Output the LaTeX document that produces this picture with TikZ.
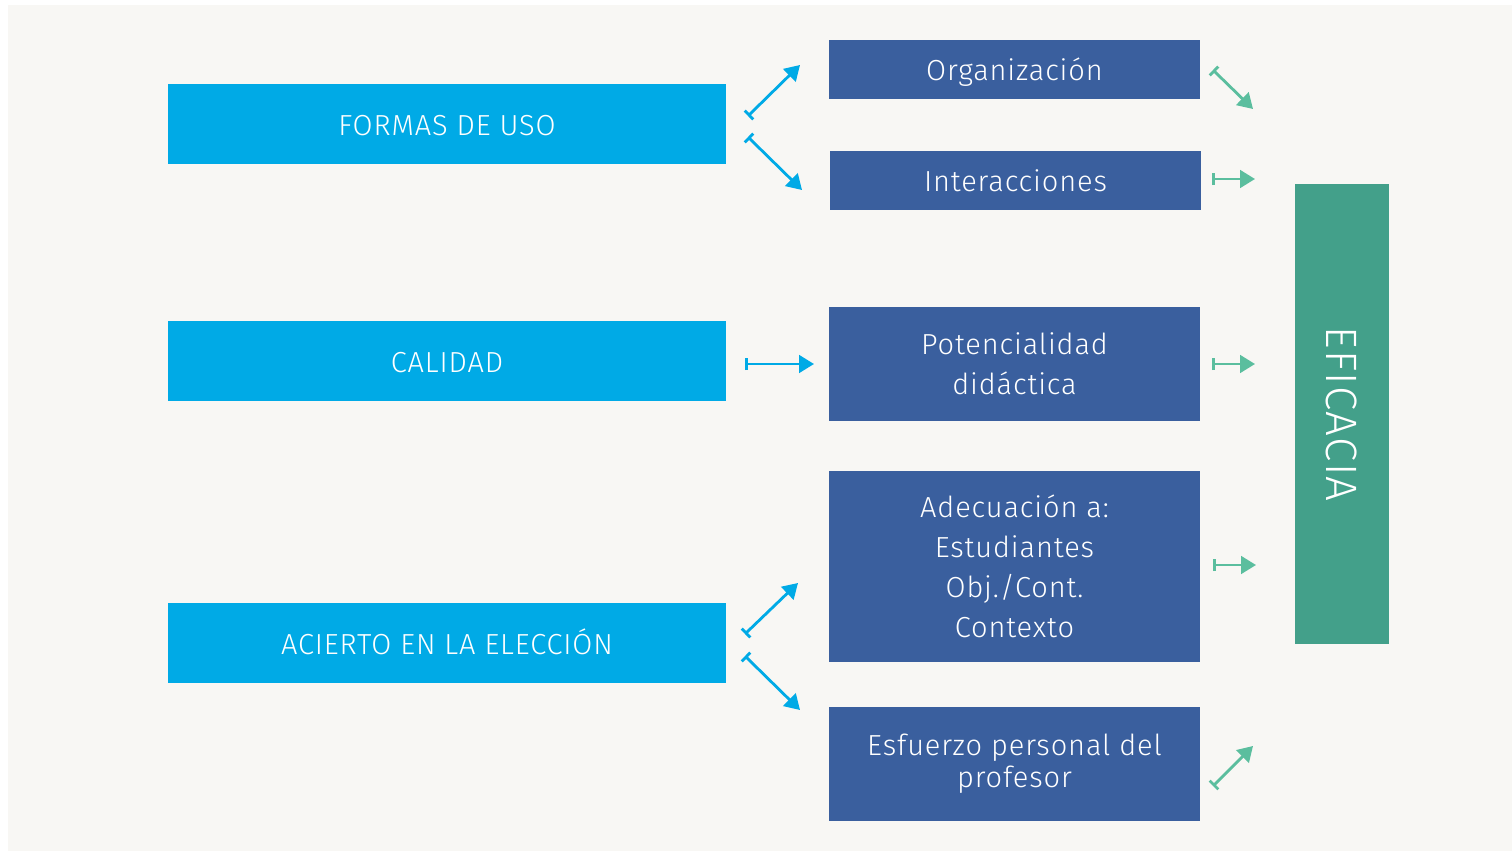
\documentclass[tikz,border=0pt]{standalone}
\usepackage{fontspec}
\setmainfont{Fira Sans Light}[LetterSpace=3]
\usetikzlibrary{arrows.meta,positioning}
\definecolor{fondo}{HTML}{F8F7F4}
\definecolor{celeste}{HTML}{00AAE6}
\definecolor{azul}{HTML}{3A5F9E}
\definecolor{verde}{HTML}{43A08A}
\definecolor{verdeclaro}{HTML}{5BBE9E}

\begin{document}
\begin{tikzpicture}[x=0.02cm, y=-0.02cm,
  factor/.style={rectangle, fill=celeste, text=white, minimum width=11.16cm, minimum height=1.6cm, inner sep=0pt, align=center, text height=13pt, text depth=0pt, font=\fontsize{16.5}{22.7}\selectfont},
  aspecto/.style={rectangle, fill=azul, text=white, minimum width=7.42cm, inner sep=0pt, align=center, font=\fontsize{16.5}{22.7}\selectfont},
  unalinea/.style={minimum height=1.18cm, text height=13pt, text depth=0pt},
  meta/.style={rectangle, fill=verde, text=white, minimum width=9.2cm, minimum height=1.88cm, inner sep=0pt, font=\fontsize{25}{30}\selectfont},
  flecha/.style={{Bar[width=7pt]}-{Triangle[length=8.5pt,width=10pt]}, line width=1.6pt},
  azulflecha/.style={flecha, draw=celeste, fill=celeste},
  verdeflecha/.style={flecha, draw=verdeclaro, fill=verdeclaro}
]
  \useasboundingbox (0,0) rectangle (1512,851);
  \fill[white] (0,0) rectangle (1512,851);
  \fill[fondo] (8,5) rectangle (1512,851);
  % factores
  \node[factor] (formas) at (447,124) {FORMAS DE USO};
  \node[factor] (calidad) at (447,361) {CALIDAD};
  \node[factor] (acierto) at (447,643) {ACIERTO EN LA ELECCIÓN};
  % aspectos
  \node[aspecto, unalinea] (org) at (1014.5,69.5) {Organización};
  \node[aspecto, unalinea] (inter) at (1015.5,180.5) {Interacciones};
  \node[aspecto, minimum height=2.28cm] (poten) at (1014.5,364) {Potencialidad\\didáctica};
  \node[aspecto, minimum height=3.82cm] (adec) at (1014.5,566.5) {Adecuación a:\\Estudiantes\\Obj./Cont.\\Contexto};
  \node[aspecto, minimum height=2.28cm, font=\fontsize{16.5}{18}\selectfont] (esf) at (1014.5,764) {Esfuerzo personal del\\profesor};
  \node[meta, rotate=-90] (eficacia) at (1342,414) {EFICACIA};
  % extremos de las flechas
  \coordinate (a1) at (748,116);  \coordinate (b1) at (800,65);
  \coordinate (a2) at (748,137);  \coordinate (b2) at (802,190);
  \coordinate (a3) at (745,364);  \coordinate (b3) at (814,364);
  \coordinate (a4) at (745,634);  \coordinate (b4) at (798,583);
  \coordinate (a5) at (745,656);  \coordinate (b5) at (800,710);
  \coordinate (c1) at (1213,70);  \coordinate (d1) at (1253,109);
  \coordinate (c2) at (1212,179); \coordinate (d2) at (1255,179);
  \coordinate (c3) at (1212,364); \coordinate (d3) at (1255,364);
  \coordinate (c4) at (1213,565); \coordinate (d4) at (1256,565);
  \coordinate (c5) at (1213,786); \coordinate (d5) at (1253,746);
  \foreach \i in {1,...,5} {
    \draw[azulflecha] (a\i) -- (b\i);
    \draw[verdeflecha] (c\i) -- (d\i);
  }
\end{tikzpicture}
\end{document}
